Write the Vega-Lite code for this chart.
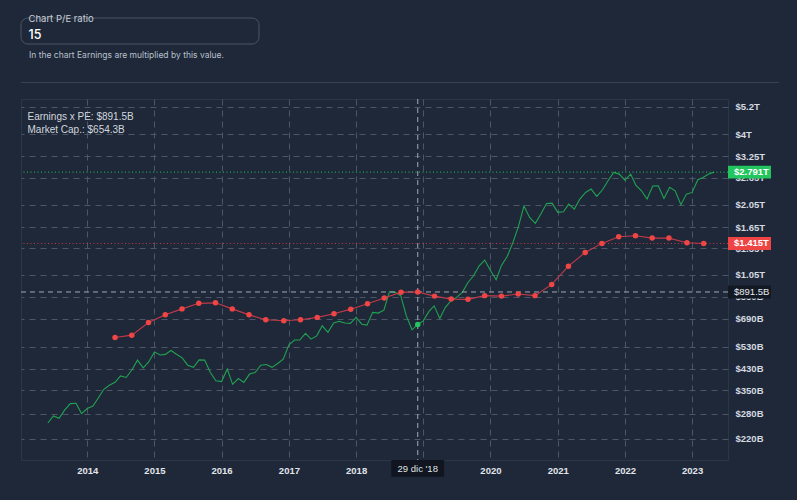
{
  "$schema": "https://vega.github.io/schema/vega-lite/v6.json",
  "background": "#1e2839",
  "padding": {"left": 20, "top": 13, "right": 19, "bottom": 22},
  "autosize": {"type": "pad"},
  "config": {
    "font": "Liberation Sans",
    "view": {"stroke": null},
    "locale": {
      "time": {
        "dateTime": "%A, %e de %B de %Y, %X",
        "date": "%d/%m/%Y",
        "time": "%H:%M:%S",
        "periods": ["AM", "PM"],
        "days": ["domingo", "lunes", "martes", "miércoles", "jueves", "viernes", "sábado"],
        "shortDays": ["dom", "lun", "mar", "mié", "jue", "vie", "sáb"],
        "months": ["enero", "febrero", "marzo", "abril", "mayo", "junio", "julio", "agosto", "septiembre", "octubre", "noviembre", "diciembre"],
        "shortMonths": ["ene", "feb", "mar", "abr", "may", "jun", "jul", "ago", "sep", "oct", "nov", "dic"]
      }
    }
  },
  "datasets": {
    "market_cap": [
      {"date": "2013-06-28", "value_b": 256}, {"date": "2013-07-28", "value_b": 274}, {"date": "2013-08-28", "value_b": 268},
      {"date": "2013-09-28", "value_b": 290}, {"date": "2013-10-28", "value_b": 308}, {"date": "2013-11-28", "value_b": 309},
      {"date": "2013-12-28", "value_b": 280}, {"date": "2014-01-28", "value_b": 294}, {"date": "2014-02-28", "value_b": 301},
      {"date": "2014-03-28", "value_b": 324}, {"date": "2014-04-28", "value_b": 353}, {"date": "2014-05-28", "value_b": 367},
      {"date": "2014-06-28", "value_b": 377}, {"date": "2014-07-28", "value_b": 401}, {"date": "2014-08-28", "value_b": 395},
      {"date": "2014-09-28", "value_b": 425}, {"date": "2014-10-28", "value_b": 466}, {"date": "2014-11-28", "value_b": 433},
      {"date": "2014-12-28", "value_b": 458}, {"date": "2015-01-28", "value_b": 504}, {"date": "2015-02-28", "value_b": 489},
      {"date": "2015-03-28", "value_b": 492}, {"date": "2015-04-28", "value_b": 511}, {"date": "2015-05-28", "value_b": 493},
      {"date": "2015-06-28", "value_b": 476}, {"date": "2015-07-28", "value_b": 444}, {"date": "2015-08-28", "value_b": 435},
      {"date": "2015-09-28", "value_b": 467}, {"date": "2015-10-28", "value_b": 466}, {"date": "2015-11-28", "value_b": 414},
      {"date": "2015-12-28", "value_b": 383}, {"date": "2016-01-28", "value_b": 380}, {"date": "2016-02-28", "value_b": 428},
      {"date": "2016-03-28", "value_b": 370}, {"date": "2016-04-28", "value_b": 391}, {"date": "2016-05-28", "value_b": 377},
      {"date": "2016-06-28", "value_b": 408}, {"date": "2016-07-28", "value_b": 414}, {"date": "2016-08-28", "value_b": 444},
      {"date": "2016-09-28", "value_b": 447}, {"date": "2016-10-28", "value_b": 435}, {"date": "2016-11-28", "value_b": 451},
      {"date": "2016-12-28", "value_b": 470}, {"date": "2017-01-28", "value_b": 539}, {"date": "2017-02-28", "value_b": 564},
      {"date": "2017-03-28", "value_b": 564}, {"date": "2017-04-28", "value_b": 601}, {"date": "2017-05-28", "value_b": 569},
      {"date": "2017-06-28", "value_b": 587}, {"date": "2017-07-28", "value_b": 646}, {"date": "2017-08-28", "value_b": 607},
      {"date": "2017-09-28", "value_b": 663}, {"date": "2017-10-28", "value_b": 674}, {"date": "2017-11-28", "value_b": 663},
      {"date": "2017-12-28", "value_b": 661}, {"date": "2018-01-28", "value_b": 700}, {"date": "2018-02-28", "value_b": 656},
      {"date": "2018-03-28", "value_b": 650}, {"date": "2018-04-28", "value_b": 734}, {"date": "2018-05-28", "value_b": 729},
      {"date": "2018-06-28", "value_b": 750}, {"date": "2018-07-28", "value_b": 893}, {"date": "2018-08-28", "value_b": 888},
      {"date": "2018-09-28", "value_b": 860}, {"date": "2018-10-28", "value_b": 710}, {"date": "2018-11-28", "value_b": 622},
      {"date": "2018-12-29", "value_b": 654.3}, {"date": "2019-01-28", "value_b": 677}, {"date": "2019-02-28", "value_b": 741},
      {"date": "2019-03-28", "value_b": 781}, {"date": "2019-04-28", "value_b": 693}, {"date": "2019-05-28", "value_b": 770},
      {"date": "2019-06-28", "value_b": 820}, {"date": "2019-07-28", "value_b": 847}, {"date": "2019-08-28", "value_b": 888},
      {"date": "2019-09-28", "value_b": 976}, {"date": "2019-10-28", "value_b": 1040}, {"date": "2019-11-28", "value_b": 1144},
      {"date": "2019-12-28", "value_b": 1208}, {"date": "2020-01-28", "value_b": 1093}, {"date": "2020-02-28", "value_b": 1001},
      {"date": "2020-03-28", "value_b": 1148}, {"date": "2020-04-28", "value_b": 1249}, {"date": "2020-05-28", "value_b": 1420},
      {"date": "2020-06-28", "value_b": 1662}, {"date": "2020-07-28", "value_b": 2020}, {"date": "2020-08-28", "value_b": 1814},
      {"date": "2020-09-28", "value_b": 1713}, {"date": "2020-10-28", "value_b": 1872}, {"date": "2020-11-28", "value_b": 2072},
      {"date": "2020-12-28", "value_b": 2078}, {"date": "2021-01-28", "value_b": 1902}, {"date": "2021-02-28", "value_b": 1913},
      {"date": "2021-03-28", "value_b": 2059}, {"date": "2021-04-28", "value_b": 1963}, {"date": "2021-05-28", "value_b": 2159},
      {"date": "2021-06-28", "value_b": 2301}, {"date": "2021-07-28", "value_b": 2375}, {"date": "2021-08-28", "value_b": 2215},
      {"date": "2021-09-28", "value_b": 2359}, {"date": "2021-10-28", "value_b": 2570}, {"date": "2021-11-28", "value_b": 2784},
      {"date": "2021-12-28", "value_b": 2739}, {"date": "2022-01-28", "value_b": 2587}, {"date": "2022-02-28", "value_b": 2739},
      {"date": "2022-03-28", "value_b": 2467}, {"date": "2022-04-28", "value_b": 2337}, {"date": "2022-05-28", "value_b": 2159},
      {"date": "2022-06-28", "value_b": 2444}, {"date": "2022-07-28", "value_b": 2451}, {"date": "2022-08-28", "value_b": 2173},
      {"date": "2022-09-28", "value_b": 2414}, {"date": "2022-10-28", "value_b": 2337}, {"date": "2022-11-28", "value_b": 2045},
      {"date": "2022-12-28", "value_b": 2264}, {"date": "2023-01-28", "value_b": 2301}, {"date": "2023-02-28", "value_b": 2595},
      {"date": "2023-03-28", "value_b": 2654}, {"date": "2023-04-28", "value_b": 2739}, {"date": "2023-05-28", "value_b": 2791}
    ],
    "earnings_pe": [
      {"date": "2014-06-28", "value_b": 578}, {"date": "2014-09-27", "value_b": 591}, {"date": "2014-12-27", "value_b": 667},
      {"date": "2015-03-28", "value_b": 717}, {"date": "2015-06-27", "value_b": 759}, {"date": "2015-09-26", "value_b": 800},
      {"date": "2015-12-26", "value_b": 804}, {"date": "2016-03-26", "value_b": 759}, {"date": "2016-06-25", "value_b": 717},
      {"date": "2016-09-24", "value_b": 684}, {"date": "2016-12-31", "value_b": 678}, {"date": "2017-04-01", "value_b": 684},
      {"date": "2017-07-01", "value_b": 700}, {"date": "2017-09-30", "value_b": 724}, {"date": "2017-12-30", "value_b": 757},
      {"date": "2018-03-31", "value_b": 797}, {"date": "2018-06-30", "value_b": 841}, {"date": "2018-09-29", "value_b": 890},
      {"date": "2018-12-29", "value_b": 891.5}, {"date": "2019-03-30", "value_b": 857}, {"date": "2019-06-29", "value_b": 833},
      {"date": "2019-09-28", "value_b": 831}, {"date": "2019-12-28", "value_b": 861}, {"date": "2020-03-28", "value_b": 857},
      {"date": "2020-06-27", "value_b": 874}, {"date": "2020-09-26", "value_b": 861}, {"date": "2020-12-26", "value_b": 958},
      {"date": "2021-03-27", "value_b": 1140}, {"date": "2021-06-26", "value_b": 1299}, {"date": "2021-09-25", "value_b": 1416},
      {"date": "2021-12-25", "value_b": 1508}, {"date": "2022-03-26", "value_b": 1522}, {"date": "2022-06-25", "value_b": 1489},
      {"date": "2022-09-24", "value_b": 1489}, {"date": "2022-12-31", "value_b": 1424}, {"date": "2023-04-01", "value_b": 1415}
    ]
  },
  "bounds": "full",
  "spacing": 15,
  "vconcat": [
    {
      "bounds": "flush",
      "spacing": 38,
      "vconcat": [
        {
          "width": 238,
          "height": 26,
          "data": {"values": [{}]},
          "mark": {"type": "rect", "fill": "transparent", "stroke": "#4b5565", "strokeWidth": 1, "cornerRadius": 7},
          "title": {
            "text": "Chart P/E ratio",
            "subtitle": "15",
            "anchor": "start",
            "dx": 8,
            "offset": -23.5,
            "font": "Inter",
            "fontSize": 9.5,
            "fontWeight": "normal",
            "color": "#c9cfd8",
            "subtitleFont": "Inter",
            "subtitleFontSize": 12.5,
            "subtitleFontWeight": 500,
            "subtitleColor": "#ffffff",
            "subtitlePadding": 5.5
          }
        },
        {
          "width": 758,
          "height": 1,
          "data": {"values": [{}]},
          "mark": {"type": "rect", "color": "#364152"},
          "title": {
            "text": "In the chart Earnings are multiplied by this value.",
            "anchor": "start",
            "dx": 8,
            "offset": 23,
            "font": "Inter",
            "fontSize": 8.5,
            "fontWeight": "normal",
            "color": "#b9c0ca"
          }
        }
      ]
    },
    {
      "width": 707,
      "height": 361,
      "view": {"stroke": "#2b3647"},
      "title": {
        "text": ["Earnings x PE: $891.5B", "Market Cap.: $654.3B"],
        "anchor": "start",
        "dx": 7,
        "offset": -36,
        "fontSize": 10,
        "fontWeight": "normal",
        "lineHeight": 13,
        "color": "#d3d7dd"
      },
      "layer": [
        {
          "data": {"name": "market_cap"},
          "mark": {"type": "line", "color": "#21a251", "strokeWidth": 1.1},
          "encoding": {
            "x": {
              "field": "date",
              "type": "temporal",
              "scale": {"type": "utc", "domain": [{"year": 2013, "month": 2, "date": 2, "utc": true}, {"year": 2023, "month": 8, "date": 11, "utc": true}]},
              "axis": {
                "title": null,
                "values": [
                  {"year": 2014, "month": 1, "date": 28, "utc": true}, {"year": 2015, "month": 1, "date": 28, "utc": true},
                  {"year": 2016, "month": 1, "date": 28, "utc": true}, {"year": 2017, "month": 1, "date": 28, "utc": true},
                  {"year": 2018, "month": 1, "date": 28, "utc": true}, {"year": 2019, "month": 1, "date": 28, "utc": true},
                  {"year": 2020, "month": 1, "date": 28, "utc": true}, {"year": 2021, "month": 1, "date": 28, "utc": true},
                  {"year": 2022, "month": 1, "date": 28, "utc": true}, {"year": 2023, "month": 1, "date": 28, "utc": true}
                ],
                "format": "%Y",
                "labelFlush": false,
                "labelFontSize": 9.5,
                "labelFontWeight": "bold",
                "labelColor": "#e2e5ea",
                "labelPadding": 5,
                "ticks": false,
                "domain": false,
                "grid": true,
                "gridColor": "#4d5666",
                "gridDash": [6, 5],
                "gridWidth": 1
              }
            },
            "y": {
              "field": "value_b",
              "type": "quantitative",
              "scale": {"type": "log", "domain": [180, 5600], "nice": false},
              "axis": {
                "title": null,
                "orient": "right",
                "values": [220, 280, 350, 430, 530, 690, 850, 1050, 1350, 1650, 2050, 2650, 3250, 4000, 5200],
                "labelExpr": "datum.value >= 1000 ? '$' + (datum.value / 1000) + 'T' : '$' + datum.value + 'B'",
                "labelOverlap": false,
                "labelFontSize": 9.5,
                "labelFontWeight": "bold",
                "labelColor": "#d5d9e0",
                "labelPadding": 7,
                "ticks": false,
                "domain": false,
                "grid": true,
                "gridColor": "#4d5666",
                "gridDash": [6, 5],
                "gridWidth": 1
              }
            }
          }
        },
        {
          "data": {"name": "earnings_pe"},
          "transform": [{"filter": {"field": "date", "timeUnit": "utcyearmonthdate", "equal": {"year": 2018, "month": 12, "date": 29, "utc": true}}}],
          "mark": {"type": "rule", "color": "#a3a9b3", "strokeDash": [5, 4], "strokeWidth": 1},
          "encoding": {"x": {"field": "date", "type": "temporal"}}
        },
        {
          "data": {"name": "earnings_pe"},
          "transform": [{"filter": {"field": "date", "timeUnit": "utcyearmonthdate", "equal": {"year": 2018, "month": 12, "date": 29, "utc": true}}}],
          "mark": {"type": "rule", "color": "#a3a9b3", "strokeDash": [5, 4], "strokeWidth": 1},
          "encoding": {"y": {"field": "value_b", "type": "quantitative"}}
        },
        {
          "data": {"name": "market_cap"},
          "transform": [{"filter": {"field": "date", "timeUnit": "utcyearmonthdate", "equal": {"year": 2023, "month": 5, "date": 28, "utc": true}}}],
          "mark": {"type": "rule", "color": "#22c55e", "strokeDash": [1, 2.5], "strokeWidth": 1},
          "encoding": {"y": {"field": "value_b", "type": "quantitative"}}
        },
        {
          "data": {"name": "earnings_pe"},
          "transform": [{"filter": {"field": "date", "timeUnit": "utcyearmonthdate", "equal": {"year": 2023, "month": 4, "date": 1, "utc": true}}}],
          "mark": {"type": "rule", "color": "#ef4444", "opacity": 0.8, "strokeDash": [1, 2.5], "strokeWidth": 1},
          "encoding": {"y": {"field": "value_b", "type": "quantitative"}}
        },
        {
          "data": {"name": "earnings_pe"},
          "mark": {"type": "line", "color": "#c23a48", "strokeWidth": 1.1},
          "encoding": {"x": {"field": "date", "type": "temporal"}, "y": {"field": "value_b", "type": "quantitative"}}
        },
        {
          "data": {"name": "earnings_pe"},
          "mark": {"type": "point", "filled": true, "color": "#f04545", "opacity": 1, "size": 30},
          "encoding": {"x": {"field": "date", "type": "temporal"}, "y": {"field": "value_b", "type": "quantitative"}}
        },
        {
          "data": {"name": "market_cap"},
          "transform": [{"filter": {"field": "date", "timeUnit": "utcyearmonthdate", "equal": {"year": 2018, "month": 12, "date": 29, "utc": true}}}],
          "mark": {"type": "point", "filled": true, "color": "#22c55e", "opacity": 1, "size": 30},
          "encoding": {"x": {"field": "date", "type": "temporal"}, "y": {"field": "value_b", "type": "quantitative"}}
        },
        {
          "data": {"name": "market_cap"},
          "transform": [
            {"filter": {"field": "date", "timeUnit": "utcyearmonthdate", "equal": {"year": 2023, "month": 5, "date": 28, "utc": true}}},
            {"calculate": "'$' + format(datum.value_b / 1000, '.3f') + 'T'", "as": "label"}
          ],
          "layer": [
            {
              "mark": {"type": "point", "shape": "M0,-0.3H2V0.3H0Z", "size": 1849, "filled": true, "fill": "#22c55e", "opacity": 1, "strokeWidth": 0},
              "encoding": {"x": {"value": "width"}, "y": {"field": "value_b", "type": "quantitative"}}
            },
            {
              "mark": {"type": "text", "align": "left", "baseline": "middle", "dx": 6, "fontSize": 9.5, "fontWeight": "bold", "color": "#ffffff"},
              "encoding": {"x": {"value": "width"}, "y": {"field": "value_b", "type": "quantitative"}, "text": {"field": "label"}}
            }
          ]
        },
        {
          "data": {"name": "earnings_pe"},
          "transform": [
            {"filter": {"field": "date", "timeUnit": "utcyearmonthdate", "equal": {"year": 2023, "month": 4, "date": 1, "utc": true}}},
            {"calculate": "'$' + format(datum.value_b / 1000, '.3f') + 'T'", "as": "label"}
          ],
          "layer": [
            {
              "mark": {"type": "point", "shape": "M0,-0.3H2V0.3H0Z", "size": 1849, "filled": true, "fill": "#ef4444", "opacity": 1, "strokeWidth": 0},
              "encoding": {"x": {"value": "width"}, "y": {"field": "value_b", "type": "quantitative"}}
            },
            {
              "mark": {"type": "text", "align": "left", "baseline": "middle", "dx": 6, "fontSize": 9.5, "fontWeight": "bold", "color": "#ffffff"},
              "encoding": {"x": {"value": "width"}, "y": {"field": "value_b", "type": "quantitative"}, "text": {"field": "label"}}
            }
          ]
        },
        {
          "data": {"name": "earnings_pe"},
          "transform": [
            {"filter": {"field": "date", "timeUnit": "utcyearmonthdate", "equal": {"year": 2018, "month": 12, "date": 29, "utc": true}}},
            {"calculate": "'$' + format(datum.value_b, '.1f') + 'B'", "as": "label"},
            {"calculate": "utcFormat(datum.date, \"%-d %b '%y\")", "as": "day_label"}
          ],
          "layer": [
            {
              "mark": {"type": "point", "shape": "M0,-0.3H2V0.3H0Z", "size": 1849, "filled": true, "fill": "#121923", "opacity": 1, "strokeWidth": 0},
              "encoding": {"x": {"value": "width"}, "y": {"field": "value_b", "type": "quantitative"}}
            },
            {
              "mark": {"type": "text", "align": "left", "baseline": "middle", "dx": 6, "fontSize": 9.5, "fontWeight": "normal", "color": "#e8eaee"},
              "encoding": {"x": {"value": "width"}, "y": {"field": "value_b", "type": "quantitative"}, "text": {"field": "label"}}
            },
            {
              "mark": {"type": "point", "shape": "M-1,0H1V0.64H-1Z", "size": 2777, "filled": true, "fill": "#10151f", "opacity": 1, "strokeWidth": 0},
              "encoding": {"x": {"field": "date", "type": "temporal"}, "y": {"value": "height"}}
            },
            {
              "mark": {"type": "text", "align": "center", "baseline": "middle", "dy": 8.5, "fontSize": 9.5, "color": "#dfe3e8"},
              "encoding": {"x": {"field": "date", "type": "temporal"}, "y": {"value": "height"}, "text": {"field": "day_label"}}
            }
          ]
        }
      ]
    }
  ]
}
